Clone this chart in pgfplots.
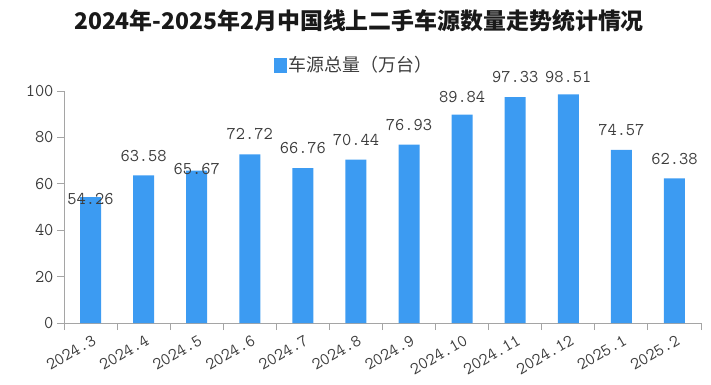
\documentclass[border=0pt]{standalone}
\usepackage{fontspec}
\usepackage{pgfplots}
\usepackage{pgfplotstable}
\pgfplotsset{compat=1.18}
\newfontfamily\cjk{Noto Sans CJK SC}
\definecolor{barblue}{RGB}{60,155,242}
\definecolor{axgray}{RGB}{165,165,165}
\definecolor{txt}{RGB}{60,60,60}

\pgfplotstableread{
x y lab off
0 54.26 54.26 -2
1 63.58 63.58 19
2 65.67 65.67 2
3 72.72 72.72 20
4 66.76 66.76 20
5 70.44 70.44 20
6 76.93 76.93 20
7 89.84 89.84 18
8 97.33 97.33 20
9 98.51 98.51 17
10 74.57 74.57 20
11 62.38 62.38 19
}\datatable

\begin{document}
\begin{tikzpicture}
\begin{axis}[
  scale only axis,
  width=637bp, height=232bp,
  xmin=-0.5, xmax=11.5, ymin=0, ymax=100,
  axis x line=bottom, axis y line=left,
  axis line style={-, draw=axgray, line width=0.9bp},
  ytick={0,20,...,100},
  xtick={0,...,11},
  xticklabels={2024.3,2024.4,2024.5,2024.6,2024.7,2024.8,2024.9,2024.10,2024.11,2024.12,2025.1,2025.2},
  xtick style={draw=none},
  extra x ticks={-0.5,0.5,...,11.5},
  extra x tick labels={},
  extra x tick style={xtick style={draw=axgray, line width=0.9bp}, major tick length=7bp, tick align=outside},
  ytick style={draw=axgray, line width=0.9bp},
  major tick length=7bp, tick align=outside,
  /pgf/number format/assume math mode=true,
  yticklabel style={font=\ttfamily\fontsize{18}{18}\selectfont, text=txt},
  xticklabel style={rotate=30, anchor=north east, yshift=-3bp, inner sep=1bp, font=\ttfamily\fontsize{17.5}{17.5}\selectfont, text=txt},
  legend style={at={(0.455,1.112)}, anchor=center, draw=none, fill=none,
    font=\cjk\fontsize{18}{18}\selectfont, text=txt, inner sep=0pt,
    /tikz/every even column/.append style={column sep=0pt}},
  clip=false,
]
\addplot[ybar, bar width=21bp, fill=barblue, draw=none,
  legend image code/.code={\fill[barblue] (0bp,-7.5bp) rectangle (13bp,7.5bp);},
  point meta=explicit symbolic,
  visualization depends on={\thisrow{off}\as\off},
  nodes near coords,
  every node near coord/.append style={anchor=center, yshift=\off bp, font=\ttfamily\fontsize{18}{18}\selectfont, text=txt}
] table[x=x, y=y, meta=lab] {\datatable};
\addlegendentry{车源总量（万台）}
\coordinate (SW) at (rel axis cs:0,0);
\coordinate (NE) at (rel axis cs:1,1);
\coordinate (TL) at (rel axis cs:0,1);
\end{axis}
\pgfresetboundingbox
\path[use as bounding box] ([xshift=-64bp,yshift=-62bp]SW) rectangle ([xshift=10bp,yshift=91bp]NE);
\node[font=\cjk\bfseries\fontsize{23}{23}\selectfont, text=black!90] at ([xshift=295bp,yshift=70bp]TL) {2024年-2025年2月中国线上二手车源数量走势统计情况};
\end{tikzpicture}
\end{document}
